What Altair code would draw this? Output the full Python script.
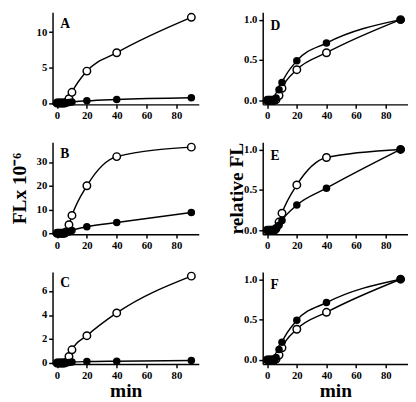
import altair as alt
import pandas as pd

# time points (min)
minutes = [0, 1, 2, 3, 4, 5, 6, 8, 10, 20, 40, 90]

# absolute fluorescence (FL x 10^-6)
a_open = [0, 0, 0, 0, 0, 0, 0.05, 0.6, 1.5, 4.5, 7.1, 12.1]
a_filled = [0, 0, 0, 0, 0, 0, 0.02, 0.05, 0.12, 0.3, 0.5, 0.75]
b_open = [0, 0, 0, 0, 0, 0, 0.5, 3.6, 7.5, 20.0, 32.3, 36.3]
b_filled = [0, 0, 0, 0, 0, 0, 0.2, 0.5, 1.1, 2.7, 4.5, 8.7]
c_open = [0, 0, 0, 0, 0, 0, 0.05, 0.54, 1.1, 2.28, 4.18, 7.25]
c_filled = [0, 0, 0, 0, 0, 0, 0.02, 0.05, 0.08, 0.12, 0.15, 0.2]

# relative fluorescence
d_open = [0, 0, 0, 0, 0, 0, 0.01, 0.06, 0.15, 0.38, 0.59, 1.0]
d_filled = [0, 0, 0, 0, 0, 0, 0.03, 0.13, 0.22, 0.49, 0.71, 1.0]
e_open = [0, 0, 0, 0, 0, 0, 0.02, 0.1, 0.21, 0.56, 0.9, 1.0]
e_filled = [0, 0, 0, 0, 0, 0, 0.02, 0.06, 0.12, 0.31, 0.52, 1.0]
f_open = [0, 0, 0, 0, 0, 0, 0.01, 0.06, 0.15, 0.38, 0.59, 1.0]
f_filled = [0, 0, 0, 0, 0, 0, 0.03, 0.13, 0.22, 0.49, 0.71, 1.0]

x_ticks = [0, 20, 40, 60, 80]
a_ticks = [0, 5, 10]
b_ticks = [0, 10, 20, 30]
c_ticks = [0, 2, 4, 6]
rel_ticks = [0, 0.5, 1.0]

FONT = "Liberation Serif"


def panel(letter, opn, fil, ydomain, yticks, yfmt, width, ytitle=None,
          ytitle_pad=8, xtitle=None):
    n = len(minutes)
    df = pd.DataFrame({
        "min": minutes * 2,
        "val": opn + fil,
        "series": ["open"] * n + ["filled"] * n,
    })
    xaxis = alt.Axis(values=x_ticks, title=xtitle, titlePadding=1)
    yaxis = alt.Axis(values=yticks, format=yfmt, title=ytitle,
                     titlePadding=ytitle_pad)
    base = alt.Chart(df).encode(
        x=alt.X("min:Q", scale=alt.Scale(domain=[-3, 95], nice=False,
                                         zero=False), axis=xaxis),
        y=alt.Y("val:Q", scale=alt.Scale(domain=ydomain, nice=False,
                                         zero=False), axis=yaxis),
    )
    lines = base.mark_line(color="black", strokeWidth=1.5,
                           interpolate="monotone").encode(detail="series:N")
    op = base.transform_filter(alt.datum.series == "open").mark_point(
        shape="circle", filled=True, fill="white", stroke="black",
        strokeWidth=1.5, size=60, opacity=1)
    fl = base.transform_filter(alt.datum.series == "filled").mark_circle(
        color="black", size=60, opacity=1)
    return alt.layer(lines, op, fl).properties(
        width=width, height=95,
        title=alt.TitleParams(letter, anchor="start", orient="top",
                              frame="group", baseline="top", offset=0,
                              dx=8, dy=21, font=FONT, fontSize=14,
                              fontWeight="bold", color="black"),
    )


A = panel("A", a_open, a_filled, [-0.2, 12.8], a_ticks, "d", 151)
B = panel("B", b_open, b_filled, [-0.4, 38.4], b_ticks, "d", 151,
          ytitle="FLx 10⁻⁶", ytitle_pad=7)
C = panel("C", c_open, c_filled, [-0.08, 7.6], c_ticks, "d", 151,
          xtitle="min")
D = panel("D", d_open, d_filled, [-0.05, 1.09], rel_ticks, ".1f", 150)
E = panel("E", e_open, e_filled, [-0.05, 1.09], rel_ticks, ".1f", 150,
          ytitle="relative FL", ytitle_pad=-3)
F = panel("F", f_open, f_filled, [-0.05, 1.09], rel_ticks, ".1f", 150,
          xtitle="min")

chart = alt.concat(
    A, D, B, E, C, F, columns=2,
    spacing=alt.RowColnumber(row=39, column=66),
    bounds="flush",
).properties(
    padding={"left": 2, "top": -4, "right": 0, "bottom": 2}
).configure_view(strokeOpacity=0).configure_axis(
    grid=False,
    domainColor="black", domainWidth=1.5,
    tickColor="black", tickWidth=1.5, tickSize=4,
    labelFont=FONT, labelFontWeight="bold", labelFontSize=11,
    labelColor="black", labelPadding=2,
    titleFont=FONT, titleFontWeight="bold", titleFontSize=20,
    titleColor="black",
)

chart.save("out.html", embed_options={"renderer": "svg", "actions": False})
